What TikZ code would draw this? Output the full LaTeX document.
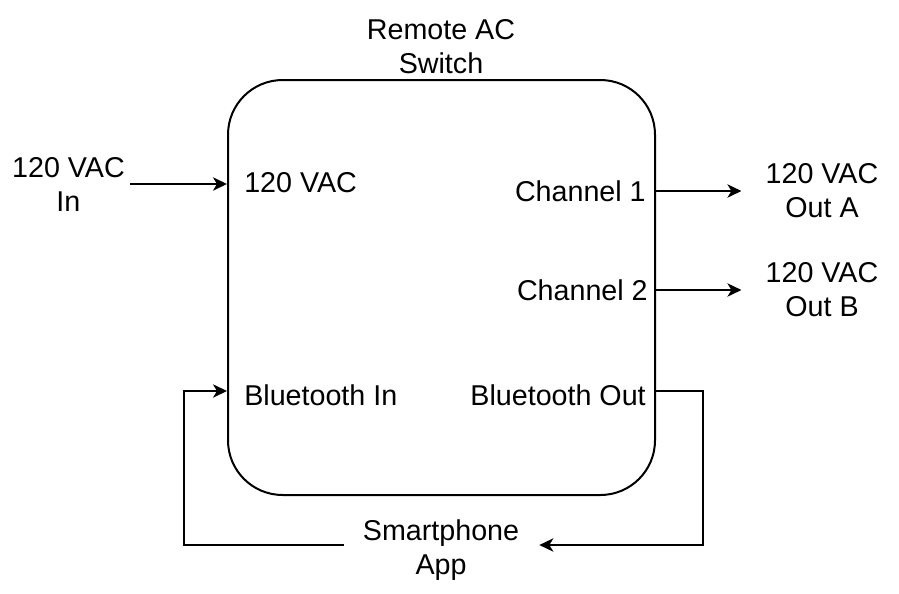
\documentclass[tikz,border=0pt]{standalone}
\usepackage{fontspec}
\setmainfont{Liberation Sans}
\usepackage{tikz}
\usetikzlibrary{arrows.meta,positioning}
\tikzstyle{block} = [rectangle, rounded corners=41pt, minimum width=320.25pt, minimum height=311.25pt, draw=black, line width=1.5pt]
\tikzstyle{lbl} = [inner sep=0pt]
\tikzstyle{io} = [align=center, inner sep=0pt]
\tikzstyle{arrow} = [line width=1.5pt, -{Stealth[length=10.5pt, width=10pt, inset=3pt]}]

\begin{document}
\begin{tikzpicture}[x=0.75pt, y=-0.75pt, font=\fontsize{21.5}{25.5}\selectfont]
	\useasboundingbox (0,0) rectangle (899,593);
	\node (sw) [block] at (441.5,287.5) {};
	\node (title) [io] at (441,47) {Remote AC\\Switch};

	\node (vin) [lbl, anchor=west] at (244,183) {120 VAC};
	\node (ch1) [lbl, anchor=east] at (646,191) {Channel 1};
	\node (ch2) [lbl, anchor=east] at (648,290) {Channel 2};
	\node (btin) [lbl, anchor=west] at (244,395) {Bluetooth In};
	\node (btout) [lbl, anchor=east] at (646,395) {Bluetooth Out};

	\node (acin) [io, anchor=east] at (125,184) {120 VAC\\In};
	\node (outa) [io] at (822,191) {120 VAC\\Out A};
	\node (outb) [io] at (822,290) {120 VAC\\Out B};
	\node (app) [io] at (441,550) {Smartphone\\App};

	\draw [arrow] ([xshift=4pt]acin.east) -- (acin.east -| sw.west);
	\draw [arrow] (sw.east |- outa.west) -- ([xshift=-18pt]outa.west);
	\draw [arrow] (sw.east |- outb.west) -- ([xshift=-18pt]outb.west);
	\draw [arrow] ([yshift=3pt]sw.east |- btout) -- ++(47,0) |- ([xshift=15pt, yshift=3.75pt]app.east);
	\draw [arrow] ([xshift=-14pt, yshift=3.75pt]app.west) -- ++(-160,0) |- ([yshift=3pt]sw.west |- btin);
\end{tikzpicture}
\end{document}
